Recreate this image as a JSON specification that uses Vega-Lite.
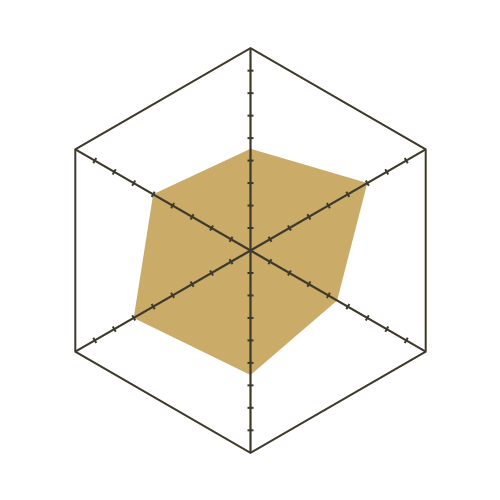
{
  "$schema": "https://vega.github.io/schema/vega-lite/v6.json",
  "width": 500,
  "height": 500,
  "autosize": {"type": "fit", "contains": "padding"},
  "padding": {"left": 1, "top": 1, "right": 0, "bottom": 0},
  "config": {"view": {"stroke": null}},
  "datasets": {
    "values": [
      {"axis": 0, "value": 4.53},
      {"axis": 1, "value": 6.0},
      {"axis": 2, "value": 4.45},
      {"axis": 3, "value": 5.54},
      {"axis": 4, "value": 6.0},
      {"axis": 5, "value": 5.0}
    ],
    "grid": [
      {"axis": 0, "value": 9},
      {"axis": 1, "value": 9},
      {"axis": 2, "value": 9},
      {"axis": 3, "value": 9},
      {"axis": 4, "value": 9},
      {"axis": 5, "value": 9}
    ],
    "ticks": [
      {"axis": 0, "value": [1, 2, 3, 4, 5, 6, 7, 8]},
      {"axis": 1, "value": [1, 2, 3, 4, 5, 6, 7, 8]},
      {"axis": 2, "value": [1, 2, 3, 4, 5, 6, 7, 8]},
      {"axis": 3, "value": [1, 2, 3, 4, 5, 6, 7, 8]},
      {"axis": 4, "value": [1, 2, 3, 4, 5, 6, 7, 8]},
      {"axis": 5, "value": [1, 2, 3, 4, 5, 6, 7, 8]}
    ]
  },
  "layer": [
    {
      "data": {"name": "values"},
      "transform": [
        {"calculate": "datum.value * sin(datum.axis * PI / 3)", "as": "px"},
        {"calculate": "datum.value * cos(datum.axis * PI / 3)", "as": "py"}
      ],
      "mark": {"type": "line", "interpolate": "linear-closed", "fill": "#caab68", "stroke": null, "strokeWidth": 0},
      "encoding": {
        "x": {"field": "px", "type": "quantitative", "scale": {"domain": [-11.1, 11.1]}, "axis": null},
        "y": {"field": "py", "type": "quantitative", "scale": {"domain": [-11.1, 11.1]}, "axis": null},
        "order": {"field": "axis"}
      }
    },
    {
      "data": {"name": "grid"},
      "transform": [
        {"calculate": "datum.value * sin(datum.axis * PI / 3)", "as": "px"},
        {"calculate": "datum.value * cos(datum.axis * PI / 3)", "as": "py"}
      ],
      "mark": {"type": "line", "interpolate": "linear-closed", "stroke": "#3d3a2b", "strokeWidth": 2},
      "encoding": {
        "x": {"field": "px", "type": "quantitative", "scale": {"domain": [-11.1, 11.1]}, "axis": null},
        "y": {"field": "py", "type": "quantitative", "scale": {"domain": [-11.1, 11.1]}, "axis": null},
        "order": {"field": "axis"}
      }
    },
    {
      "data": {"name": "grid"},
      "transform": [
        {"calculate": "datum.value * sin(datum.axis * PI / 3)", "as": "px"},
        {"calculate": "datum.value * cos(datum.axis * PI / 3)", "as": "py"}
      ],
      "mark": {"type": "rule", "stroke": "#3d3a2b", "strokeWidth": 2.2},
      "encoding": {
        "x": {"field": "px", "type": "quantitative", "scale": {"domain": [-11.1, 11.1]}, "axis": null},
        "y": {"field": "py", "type": "quantitative", "scale": {"domain": [-11.1, 11.1]}, "axis": null},
        "x2": {"datum": 0},
        "y2": {"datum": 0}
      }
    },
    {
      "data": {"name": "ticks"},
      "transform": [
        {"flatten": ["value"]},
        {"calculate": "datum.value * sin(datum.axis * PI / 3)", "as": "px"},
        {"calculate": "datum.value * cos(datum.axis * PI / 3)", "as": "py"},
        {"calculate": "datum.axis * 60", "as": "rot"}
      ],
      "mark": {"type": "point", "shape": "M-1,0L1,0", "size": 36, "stroke": "#3d3a2b", "strokeWidth": 2, "filled": false, "opacity": 1},
      "encoding": {
        "x": {"field": "px", "type": "quantitative", "scale": {"domain": [-11.1, 11.1]}, "axis": null},
        "y": {"field": "py", "type": "quantitative", "scale": {"domain": [-11.1, 11.1]}, "axis": null},
        "angle": {"field": "rot", "type": "quantitative", "scale": null}
      }
    }
  ]
}
